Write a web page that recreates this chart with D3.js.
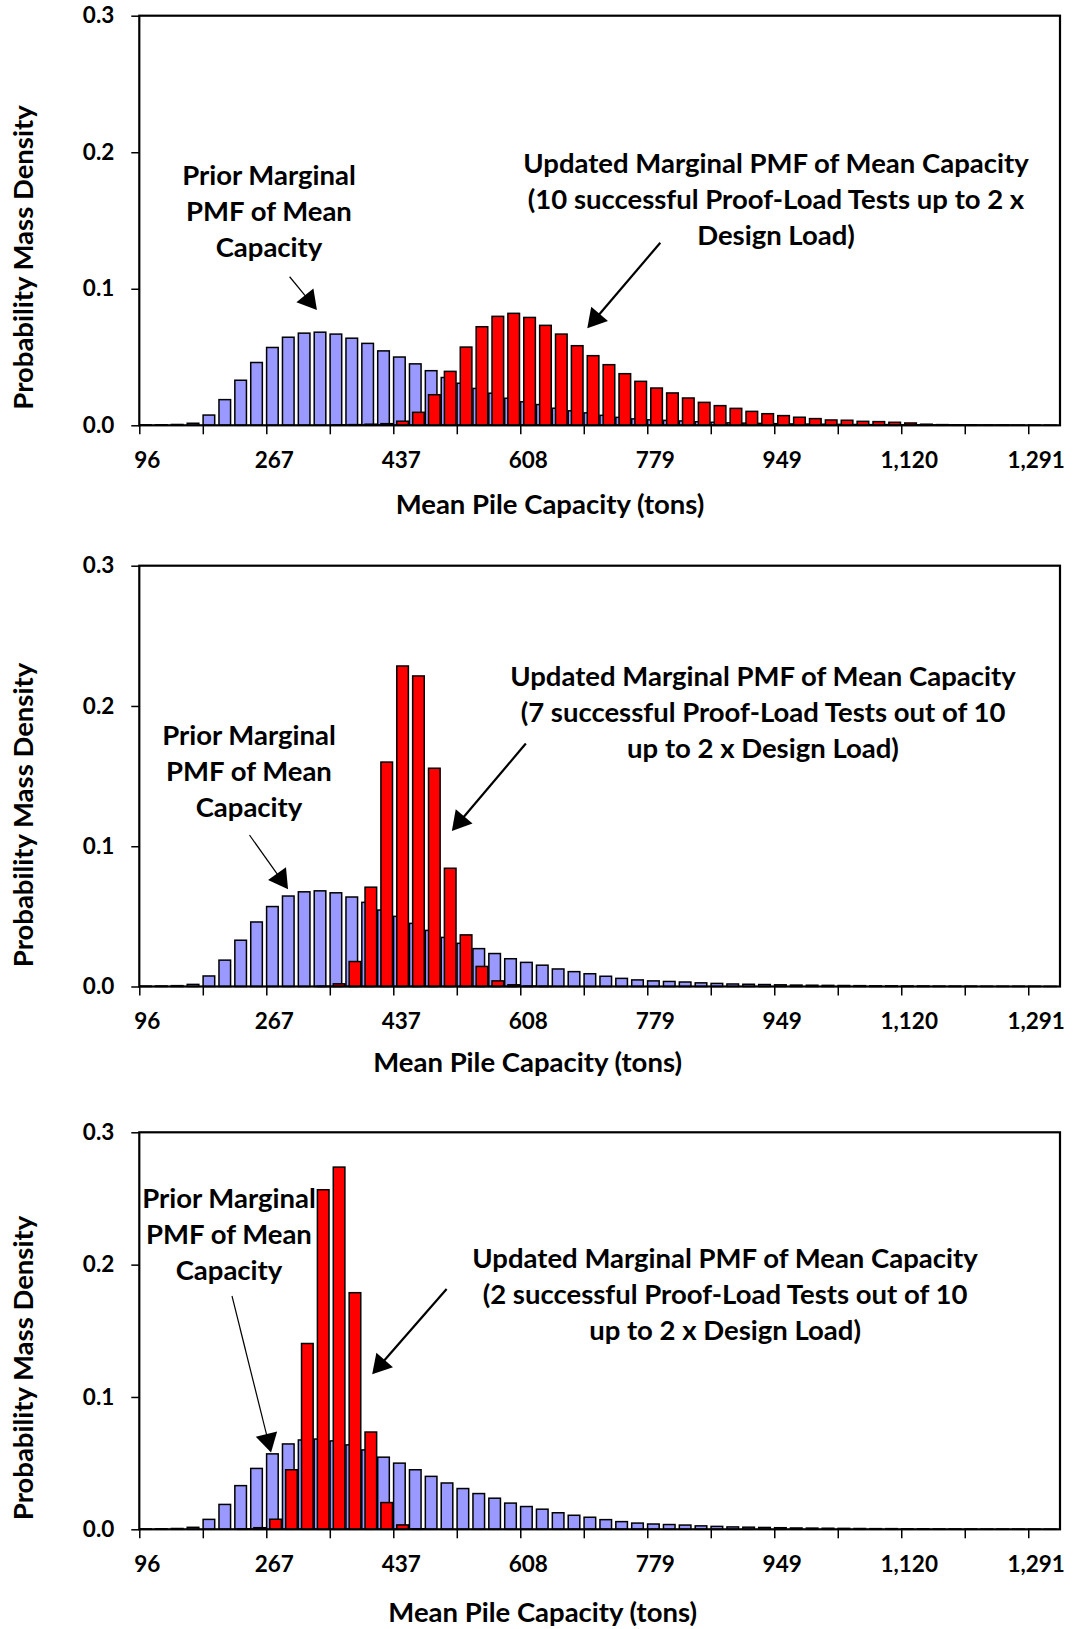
<!DOCTYPE html>
<html>
<head>
<meta charset="utf-8">
<script src="https://cdn.jsdelivr.net/npm/d3@7"></script>
<style>
  body { margin: 0; background: #fff; }
  svg { display: block; }
  text { font-family: Lato, "Open Sans", sans-serif; font-weight: 700; fill: #000; }
</style>
</head>
<body>
<svg id="chart" width="1074" height="1629"></svg>
<script>
// Mean pile capacity categories (tons), one per bar slot
const capacityTons = [96,117,139,160,181,203,224,245,267,288,309,331,352,373,395,416,
  437,459,480,501,523,544,565,587,608,629,651,672,693,715,736,757,779,800,821,843,864,885,
  907,928,949,971,992,1013,1035,1056,1077,1099,1120,1141,1163,1184,1205,1227,1248,1269,1291,1312];

// Prior marginal PMF of mean capacity (same in every panel)
const priorPMF = [0.0003,0.0004,0.0006,0.0015,0.0075,0.0188,0.0330,0.0460,0.0570,0.0645,0.0675,0.0682,
  0.0668,0.0638,0.0600,0.0545,0.0500,0.0450,0.0400,0.0350,0.0308,0.0270,0.0235,0.0198,
  0.0172,0.0152,0.0125,0.0106,0.0091,0.0073,0.0058,0.0047,0.0040,0.0036,0.0032,0.0026,
  0.0022,0.0018,0.0016,0.0014,0.0012,0.0010,0.0009,0.0008,0.0007,0.0006,0.0005,0.0005,
  0.0004,0.0004,0.0003,0.0003,0.0003,0.0002,0.0002,0.0002,0.0002,0.0001];

// Updated PMF: 10 successful proof-load tests up to 2 x design load
const updated10of10 = [0,0,0,0,0,0,0,0,0,0,0,0,
  0.0003,0.0005,0.0008,0.0012,0.0030,0.0095,0.0224,0.0395,0.0573,0.0722,0.0798,0.0820,
  0.0790,0.0732,0.0668,0.0583,0.0510,0.0444,0.0378,0.0322,0.0273,0.0237,0.0200,0.0168,
  0.0144,0.0124,0.0102,0.0085,0.0071,0.0059,0.0049,0.0039,0.0037,0.0029,0.0027,0.0022,
  0.0017,0.0008,0.0005,0.0003,0.0002,0.0001,0.0001,0,0,0];

// Updated PMF: 7 successful tests out of 10
const updated7of10 = [0,0,0,0,0,0,0,0,0,0,0,0.0002,
  0.0019,0.0178,0.0708,0.1600,0.2285,0.2214,0.1556,0.0843,0.0368,0.0143,0.0040,0.0012,
  0.0003,0.0001,0,0,0,0,0,0,0,0,0,0,
  0,0,0,0,0,0,0,0,0,0,0,0,
  0,0,0,0,0,0,0,0,0,0];

// Updated PMF: 2 successful tests out of 10
const updated2of10 = [0,0,0,0,0,0,0.0003,0.0012,0.0076,0.0450,0.1404,0.2566,
  0.2737,0.1788,0.0735,0.0202,0.0033,0.0004,0,0,0,0,0,0,
  0,0,0,0,0,0,0,0,0,0,0,0,
  0,0,0,0,0,0,0,0,0,0,0,0,
  0,0,0,0,0,0,0,0,0,0];

const yTicks = [0, 0.1, 0.2, 0.3];

const priorLines = ["Prior Marginal", "PMF of Mean", "Capacity"];
const updatedLines10 = ["Updated Marginal PMF of Mean Capacity", "(10 successful Proof-Load Tests up to 2 x", "Design Load)"];
const updatedLines7 = ["Updated Marginal PMF of Mean Capacity", "(7 successful Proof-Load Tests out of 10", "up to 2 x Design Load)"];
const updatedLines2 = ["Updated Marginal PMF of Mean Capacity", "(2 successful Proof-Load Tests out of 10", "up to 2 x Design Load)"];

// Panel layout; annotation anchors are in (category position, probability) units
const plotLeft = 139.3, plotRight = 1060;
const panels = [
  { updated: updated10of10, top: 15.7, bottom: 425.3, xTitleX: 550, xTitleDy: 79, yTitleY: 257.5,
    priorNote: { lines: priorLines, at: [8.17, 0.1828], from: [9.47, 0.1088], to: [11.19, 0.0844] },
    updNote: { lines: updatedLines10, at: [40.11, 0.1919], from: [32.82, 0.1337], to: [28.22, 0.0710] } },
  { updated: updated7of10, top: 565.7, bottom: 986.5, xTitleX: 527.6, xTitleDy: 76, yTitleY: 815,
    priorNote: { lines: priorLines, at: [6.91, 0.1793], from: [6.94, 0.1080], to: [9.37, 0.0694] },
    updNote: { lines: updatedLines7, at: [39.29, 0.2210], from: [24.35, 0.1732], to: [19.69, 0.1109] } },
  { updated: updated2of10, top: 1132.3, bottom: 1529.3, xTitleX: 542.7, xTitleDy: 83, yTitleY: 1368,
    priorNote: { lines: priorLines, at: [5.65, 0.2504], from: [5.84, 0.1763], to: [8.30, 0.0580] },
    updNote: { lines: updatedLines2, at: [36.9, 0.2050], from: [19.36, 0.1816], to: [14.67, 0.1171] } }
];

const svg = d3.select("#chart");
const n = capacityTons.length;
const xBand = d3.scaleBand().domain(d3.range(n)).range([plotLeft, plotRight]).padding(0);
const xPos = d3.scaleLinear().domain([0, n]).range([plotLeft, plotRight]);
const bw = xBand.bandwidth();
const fmtComma = d3.format(",");

// keep each value's category index so filtering zero bars does not shift positions
const indexed = arr => arr.map((v, i) => ({ i, v })).filter(d => d.v > 0);

function arrow(g, y, note, thick) {
  const x1 = xPos(note.from[0]), y1 = y(note.from[1]);
  const x2 = xPos(note.to[0]), y2 = y(note.to[1]);
  const len = Math.hypot(x2 - x1, y2 - y1);
  const ux = (x2 - x1) / len, uy = (y2 - y1) / len;
  const headL = 19, headW = 11;
  const bx = x2 - ux * headL, by = y2 - uy * headL;
  g.append("line").attr("x1", x1).attr("y1", y1).attr("x2", bx + ux * 2).attr("y2", by + uy * 2)
    .attr("stroke", "#000").attr("stroke-width", thick ? 2.2 : 1.2);
  g.append("path")
    .attr("d", `M${x2},${y2}L${bx - uy * headW},${by + ux * headW}L${bx + uy * headW},${by - ux * headW}Z`)
    .attr("fill", "#000");
}

function noteText(g, y, note) {
  const t = g.append("text").attr("text-anchor", "middle").style("font-size", "27.5px");
  note.lines.forEach((line, i) => {
    t.append("tspan").attr("x", xPos(note.at[0])).attr("y", y(note.at[1]) + i * 36)
      .attr("dy", "0.35em").text(line);
  });
}

panels.forEach(p => {
  const g = svg.append("g");
  const y = d3.scaleLinear().domain([0, 0.3]).range([p.bottom, p.top]);

  // prior bars (behind)
  g.append("g").selectAll("rect").data(indexed(priorPMF)).join("rect")
    .attr("x", d => xBand(d.i) + bw * 0.019)
    .attr("width", bw * 0.731)
    .attr("y", d => y(d.v))
    .attr("height", d => y(0) - y(d.v))
    .attr("fill", "#9999FF").attr("stroke", "#000").attr("stroke-width", 1.5);

  // updated bars (in front, shifted right)
  g.append("g").selectAll("rect").data(indexed(p.updated)).join("rect")
    .attr("x", d => xBand(d.i) + bw * 0.22)
    .attr("width", bw * 0.731)
    .attr("y", d => y(d.v))
    .attr("height", d => y(0) - y(d.v))
    .attr("fill", "#FF0000").attr("stroke", "#000").attr("stroke-width", 1.5);

  // frame
  g.append("rect").attr("x", plotLeft).attr("y", p.top)
    .attr("width", plotRight - plotLeft).attr("height", p.bottom - p.top)
    .attr("fill", "none").attr("stroke", "#000").attr("stroke-width", 2.2);

  // y axis
  const ya = g.append("g").attr("transform", `translate(${plotLeft},0)`)
    .call(d3.axisLeft(y).tickValues(yTicks).tickFormat(d3.format(".1f")).tickSize(8).tickPadding(17));
  ya.select(".domain").remove();
  ya.selectAll("line").attr("stroke", "#000").attr("stroke-width", 1.5);
  ya.selectAll("text").style("font-size", "22.5px").attr("fill", "#000");

  // x tick marks between category groups
  const xt = g.append("g").attr("transform", `translate(0,${p.bottom})`)
    .call(d3.axisBottom(xPos).tickValues(d3.range(0, n - 1, 4)).tickSize(9).tickFormat(""));
  xt.select(".domain").remove();
  xt.selectAll("line").attr("stroke", "#000").attr("stroke-width", 1.5);

  // x labels centred on every 8th category
  const xl = g.append("g").attr("transform", `translate(0,${p.bottom})`)
    .call(d3.axisBottom(xBand).tickValues(d3.range(0, n, 8)).tickSize(0).tickPadding(26.6)
      .tickFormat(i => fmtComma(capacityTons[i])));
  xl.select(".domain").remove();
  xl.selectAll("text").style("font-size", "22.5px").attr("fill", "#000");

  // axis titles
  g.append("text").attr("x", p.xTitleX).attr("y", p.bottom + p.xTitleDy).attr("dy", "0.35em")
    .attr("text-anchor", "middle").style("font-size", "27.5px").text("Mean Pile Capacity (tons)");
  g.append("text").attr("transform", `translate(23,${p.yTitleY}) rotate(-90)`).attr("dy", "0.35em")
    .attr("text-anchor", "middle").style("font-size", "27.5px").text("Probability Mass Density");

  // annotations
  noteText(g, y, p.priorNote);
  noteText(g, y, p.updNote);
  arrow(g, y, p.priorNote, false);
  arrow(g, y, p.updNote, true);
});
</script>
</body>
</html>
